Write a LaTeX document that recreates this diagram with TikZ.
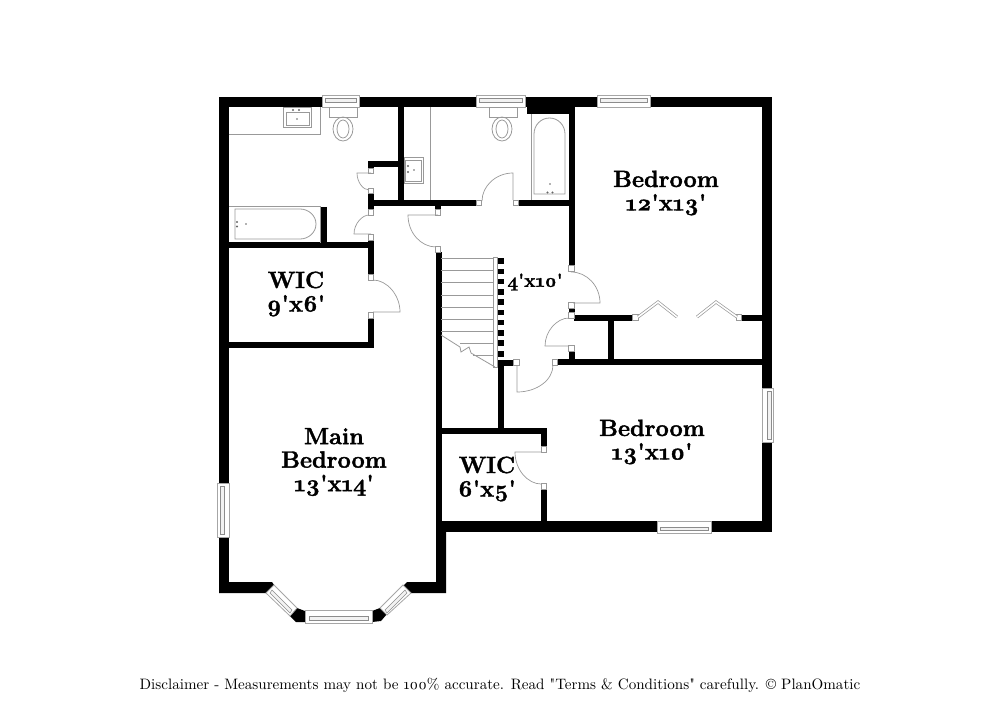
\documentclass[tikz,border=0pt]{standalone}
\usepackage{fontspec}
\setmainfont{Latin Modern Roman}[Numbers=OldStyle,BoldFeatures={FakeBold=1.6}]
\newfontfamily\notefont{lmroman10-regular.otf}[Numbers=OldStyle]
\tikzset{
  outerwall/.style={line width=10.5pt, black},
  partition/.style={line width=6pt, black},
  fixture/.style={draw=black!40, line width=0.8pt},
  doorline/.style={draw=black!40, line width=0.7pt},
  jamb/.style={draw=black!40, fill=white, line width=0.7pt},
  windowpane/.style={draw=black!35, fill=white, line width=0.8pt},
  windowlight/.style={draw=black!45, fill=black!5, line width=0.5pt},
  foldleaf/.style={draw=black!40, double=white, double distance=1.6pt, line width=0.7pt},
  roomlabel/.style={font=\fontsize{23.5}{23.5}\selectfont\bfseries, align=center, inner sep=0pt}
}
\begin{document}
\begin{tikzpicture}[x=1pt,y=-1pt]
      \useasboundingbox (0,0) rectangle (1000,727);

      % Outer walls
      \draw[outerwall] (224,593) -- (224,102) -- (767,102) -- (767,526.5) -- (436,526.5);
      \fill (219,582) -- (272,582) -- (274,585) -- (266,593) -- (219,593) -- cycle;
      \fill (446,532) -- (446,593) -- (411,593) -- (403,586) -- (407,582) -- (436,582) -- (436,532) -- cycle;
      \fill (297,608) -- (305,611) -- (305,622) -- (296,622) -- (289,615) -- cycle;
      \fill (372,611) -- (380,608) -- (387,614) -- (381,621) -- (372,622) -- cycle;
      \fill (527,107) rectangle (574,114);

      % Inner walls
      \draw[partition] (400.5,107) -- (400.5,205);
      \draw[partition] (368,164.5) -- (398,164.5);
      \draw[partition] (371,162) -- (371,168);
      \draw[partition] (371,194) -- (371,210);
      \draw[partition] (371,240) -- (371,275);
      \draw[partition] (371,318) -- (371,347);
      \draw[partition] (373,203) -- (477,203);
      \draw[partition] (519,203) -- (569,203);
      \draw[partition] (438,205) -- (438,210);
      \draw[partition] (571.5,107) -- (571.5,266);
      \draw[partition] (571.5,308) -- (571.5,313);
      \draw[partition] (571.5,351) -- (571.5,360);
      \draw[partition] (229,245) -- (374,245);
      \draw[partition] (324,207) -- (324,243);
      \draw[partition] (229,344.5) -- (373.5,344.5);
      \draw[partition] (574,317.5) -- (633,317.5);
      \draw[partition] (741,317.5) -- (762,317.5);
      \draw[partition] (610.5,318) -- (610.5,360);
      \draw[partition] (557,362) -- (762,362);
      \draw[partition] (498,362.5) -- (514,362.5);
      \draw[partition] (500.5,360) -- (500.5,431);
      \draw[partition] (438.5,252) -- (438.5,521);
      \draw[partition] (436,431) -- (546.5,431);
      \draw[partition] (544,428) -- (544,447);
      \draw[partition] (544,489) -- (544,521);

      % Baluster
      \foreach \y in {258,268.5,278.5,289,299,309.5,319.5,330,340,351}
        \fill (497,\y) rectangle (503.5,\y+5.5);

      % Stairs
      \foreach \y in {258,270,282,295,307,319,331}
        \draw[fixture] (441,\y) -- (493,\y);
      \draw[fixture] (460,343) -- (493,343);
      \draw[fixture] (473,355) -- (493,355);
      \draw[fixture] (493,257) rectangle (497,367);
      \draw[fixture] (441,335) -- (460,347) -- (461,352) -- (469,347) -- (471,353) -- (495,367);

      % Door jambs
      \foreach \x/\y in {371/171,371/191,371/212.5,371/237.5,371/277.5,371/315.5,
                         438/212.5,438/249.5,479/203,516/203,571.5/268.5,571.5/305.5,
                         571.5/315.5,571.5/348.5,635.5/317.5,739/317.5,555/362.5,516.5/362.5,
                         544/449.5,544/486.5}
        \draw[jamb] (\x-2.8,\y-2.8) rectangle (\x+2.8,\y+2.8);

      % Doors
      \draw[doorline] (371,173) -- (357,173) .. controls (357,182) and (363,190) .. (369,190);
      \draw[doorline] (371,234) -- (354,234) .. controls (354,224) and (362,215) .. (369,215);
      \draw[doorline] (438,215) -- (408,215) .. controls (408,233) and (421,247) .. (436,247);
      \draw[doorline] (513,200) -- (513,173) .. controls (496,173) and (482,186) .. (482,201);
      \draw[doorline] (573,303) -- (600,303) .. controls (600,286) and (587,272) .. (571,272);
      \draw[doorline] (569,346) -- (545,346) .. controls (545,331) and (557,318) .. (569,318);
      \draw[doorline] (517,365) -- (517,392) .. controls (537,392) and (553,380) .. (553,365);
      \draw[doorline] (373,312) -- (400,312) .. controls (400,295) and (387,280) .. (373,280);
      \draw[doorline] (541,452) -- (515,452) .. controls (515,470) and (528,484) .. (541,484);

      % Closet folding doors
      \draw[foldleaf] (638,317) -- (658,302) -- (677,317);
      \draw[foldleaf] (737,317) -- (716,302) -- (697,317);

      % Windows
      \foreach \xa/\xb in {322/359,476/525,597/650}{
        \draw[windowpane] (\xa,95) rectangle (\xb,107);
        \draw[windowlight] (\xa+3,98) rectangle (\xb-3,102);
      }
      \draw[windowpane] (657,521) rectangle (711,533);
      \draw[windowlight] (660,527) rectangle (708,530);
      \draw[windowpane] (762,388) rectangle (773,442);
      \draw[windowlight] (767,391) rectangle (771,439);
      \draw[windowpane] (217,483) rectangle (229,537);
      \draw[windowlight] (220,486) rectangle (224,534);
      \draw[windowpane] (305,610) rectangle (372,623);
      \draw[windowlight] (309,616) rectangle (368,620);
      \draw[windowpane] (274,585) -- (297,608) -- (290,616) -- (266,593) -- cycle;
      \draw[windowlight] (272,590) -- (292,610) -- (290,613) -- (270,593) -- cycle;
      \draw[windowpane] (403,585) -- (380,608) -- (387,615) -- (411,593) -- cycle;
      \draw[windowlight] (405,590) -- (385,610) -- (387,613) -- (407,593) -- cycle;

      % Main bath fixtures
      \draw[fixture] (229,134) -- (320,134) -- (320,107);
      \draw[fixture] (283,107) rectangle (311,127);
      \draw[fixture] (286,112) rectangle (309,125);
      \fill[black!60] (293,110) circle (1.2) (299,110) circle (1.2) (297,119) circle (0.9);
      \draw[fixture] (329,107) rectangle (357,117);
      \draw[fixture] (343,129) ellipse (10 and 12);
      \draw[fixture] (343,129) ellipse (6 and 9);
      \draw[fixture] (229,206) -- (320,206) -- (320,243);
      \draw[fixture] (235,209) -- (300,209) .. controls (309,209) and (316,216) .. (316,224) .. controls (316,232) and (309,239) .. (300,239) -- (235,239) -- cycle;
      \fill[black!60] (237,222) circle (1.2) (237,226.5) circle (1.2) (246,224) circle (0.9);

      % Hall bath fixtures
      \draw[fixture] (430,107) -- (430,200);
      \draw[fixture] (404,157) rectangle (423,183);
      \draw[fixture] (405,160) rectangle (421,181);
      \fill[black!60] (408,166) circle (1.2) (408,172) circle (1.2) (414,170) circle (0.9);
      \draw[fixture] (489,107) rectangle (517,117);
      \draw[fixture] (502,129) ellipse (10 and 12);
      \draw[fixture] (502,129) ellipse (6 and 9);
      \draw[fixture] (531,200) -- (531,114);
      \draw[fixture] (534,194) -- (534,134) .. controls (534,125) and (541,118) .. (549.5,118) .. controls (558,118) and (565,125) .. (565,134) -- (565,194) -- cycle;
      \fill[black!60] (547.5,192.5) circle (1.2) (552.5,192.5) circle (1.2) (550,184) circle (0.9);

      % Room labels
      \node[roomlabel] (bedroomone) at (666,193) {Bedroom\\12\textquotesingle x13\textquotesingle};
      \node[roomlabel] (bedroomtwo) at (652,442) {Bedroom\\13\textquotesingle x10\textquotesingle};
      \node[roomlabel] (wicone) at (296,294) {WIC\\9\textquotesingle x6\textquotesingle};
      \node[roomlabel] (wictwo) at (487,479) {WIC\\6\textquotesingle x5\textquotesingle};
      \node[roomlabel] (mainbedroom) at (334,462) {Main\\Bedroom\\13\textquotesingle x14\textquotesingle};
      \node[roomlabel, font=\fontsize{19}{19}\selectfont\bfseries] (hall) at (535,282) {4\textquotesingle x10\textquotesingle};

      % Disclaimer
      \node[font=\notefont\fontsize{15.1}{17}\selectfont, inner sep=0pt] (disclaimer) at (500,685) {Disclaimer - Measurements may not be 100\% accurate. Read "Terms \& Conditions" carefully. © PlanOmatic};
\end{tikzpicture}
\end{document}
